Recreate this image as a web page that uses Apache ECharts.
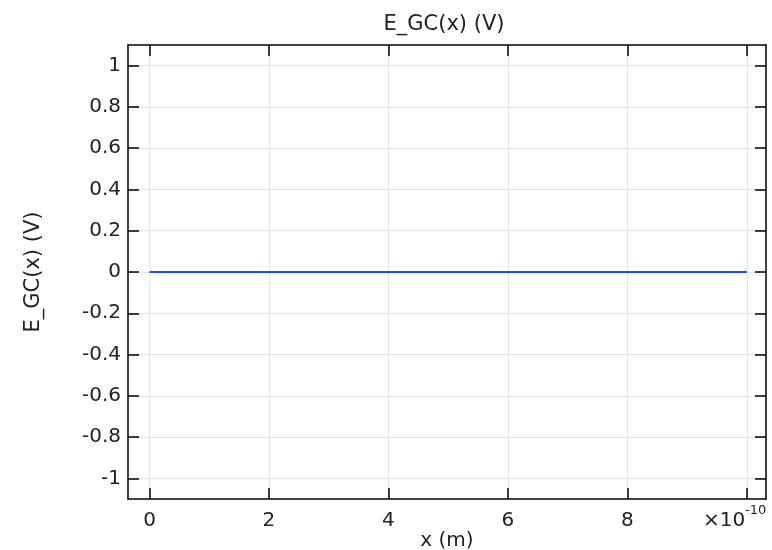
<!DOCTYPE html>
<html>
<head>
<meta charset="utf-8">
<script src="https://cdn.jsdelivr.net/npm/echarts@6/dist/echarts.min.js"></script>
<style>
html,body{margin:0;padding:0;background:#fff;}
#chart{width:772px;height:550px;}
</style>
</head>
<body>
<div id="chart"></div>
<script>
// x positions in units of 1e-10 m
const xValues = [0, 1, 2, 3, 4, 5, 6, 7, 8, 9, 10];
const yValues = [0, 0, 0, 0, 0, 0, 0, 0, 0, 0, 0];
const xTicks = [0, 2, 4, 6, 8, 10];
const xTickLabels = [0, 2, 4, 6, 8];
const yTicks = [-1, -0.8, -0.6, -0.4, -0.2, 0, 0.2, 0.4, 0.6, 0.8, 1];
const titleText = 'E_GC(x) (V)';
const xName = 'x (m)';
const yName = 'E_GC(x) (V)';

const font = 'DejaVu Sans';
const X_MIN = -0.36, X_MAX = 10.32, Y_MIN = -1.1, Y_MAX = 1.1;
const lineBlack = {color: '#000', width: 1.5};
const gridLine = {show: true, lineStyle: {color: '#e3e3e3', width: 1}};
const chart = echarts.init(document.getElementById('chart'), null, {renderer: 'canvas'});
chart.setOption({
  animation: false,
  backgroundColor: '#fff',
  title: {text: titleText, left: 439, top: 9, textAlign: 'center',
    textStyle: {fontFamily: font, fontSize: 21, fontWeight: 'normal', color: '#222'}},
  grid: {left: 128, right: 6, top: 45, bottom: 51, containLabel: false, outerBoundsMode: 'none'},
  xAxis: [{
    type: 'value', min: X_MIN, max: X_MAX,
    name: xName, nameLocation: 'middle', nameGap: 32, nameMoveOverlap: false,
    nameTextStyle: {fontFamily: font, fontSize: 20, color: '#222'},
    axisLine: {show: true, onZero: false, lineStyle: lineBlack},
    axisTick: {show: true, inside: true, length: 11, lineStyle: lineBlack, customValues: xTicks},
    axisLabel: {fontFamily: font, fontSize: 20, color: '#222', margin: 12,
      customValues: xTickLabels, formatter: v => String(v)},
    splitLine: gridLine
  }, {
    type: 'value', position: 'top', min: X_MIN, max: X_MAX,
    axisLine: {show: true, onZero: false, lineStyle: lineBlack},
    axisTick: {show: true, inside: true, length: 11, lineStyle: lineBlack, customValues: xTicks},
    axisLabel: {show: false}, splitLine: {show: false}
  }],
  yAxis: [{
    type: 'value', min: Y_MIN, max: Y_MAX,
    name: yName, nameLocation: 'middle', nameGap: 84, nameRotate: 90, nameMoveOverlap: false,
    nameTextStyle: {fontFamily: font, fontSize: 21, color: '#222'},
    axisLine: {show: true, onZero: false, lineStyle: lineBlack},
    axisTick: {show: true, inside: true, length: 11, lineStyle: lineBlack, customValues: yTicks},
    axisLabel: {fontFamily: font, fontSize: 20, color: '#222', margin: 7,
      customValues: yTicks,
      formatter: v => { const r = Math.round(v * 10) / 10; return r === 0 ? '0' : String(r); }},
    splitLine: gridLine
  }, {
    type: 'value', position: 'right', min: Y_MIN, max: Y_MAX,
    axisLine: {show: true, onZero: false, lineStyle: lineBlack},
    axisTick: {show: true, inside: true, length: 11, lineStyle: lineBlack, customValues: yTicks},
    axisLabel: {show: false}, splitLine: {show: false}
  }],
  series: [{
    type: 'line', xAxisIndex: 0, yAxisIndex: 0,
    data: xValues.map((x, i) => [x, yValues[i]]),
    showSymbol: false, symbol: 'none',
    lineStyle: {color: '#2347f2', width: 2}
  }],
  graphic: [
    {type: 'text', left: 703, top: 511,
      style: {text: '×10', fontFamily: font, fontSize: 20, fill: '#222'}},
    {type: 'text', left: 745, top: 504,
      style: {text: '-10', fontFamily: font, fontSize: 13, fill: '#222'}}
  ]
});
</script>
</body>
</html>
